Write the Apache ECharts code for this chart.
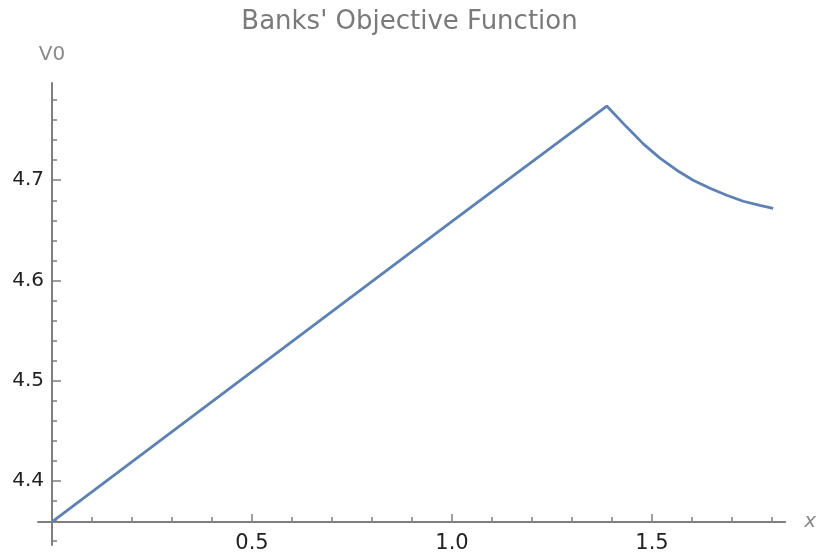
<!DOCTYPE html>
<html>
<head>
<meta charset="utf-8">
<script src="https://cdn.jsdelivr.net/npm/echarts@6/dist/echarts.min.js"></script>
<style>html,body{margin:0;padding:0;background:#fff}#c{width:819px;height:557px}</style>
</head>
<body>
<div id="c"></div>
<script>
// Data
const xValues = [0, 0.5, 1.0, 1.387, 1.437, 1.479, 1.520, 1.562, 1.603, 1.645, 1.687, 1.728, 1.770, 1.803];
const v0Values = [4.359, 4.509, 4.659, 4.774, 4.753, 4.736, 4.722, 4.710, 4.700, 4.692, 4.685, 4.679, 4.675, 4.672];
const xMajorTicks = [0.5, 1.0, 1.5];
const xMinorTicks = [0.1, 0.2, 0.3, 0.4, 0.6, 0.7, 0.8, 0.9, 1.1, 1.2, 1.3, 1.4, 1.6, 1.7, 1.8];
const yMajorTicks = [4.4, 4.5, 4.6, 4.7];
const yMinorTicks = [4.34, 4.36, 4.38, 4.42, 4.44, 4.46, 4.48, 4.52, 4.54, 4.56, 4.58, 4.62, 4.64, 4.66, 4.68, 4.72, 4.74, 4.76, 4.78];

const axisColor = '#7f7f7f';
const labelFont = 'DejaVu Sans';
const xRange = {min: -0.035, max: 1.833};
const yRange = {min: 4.336, max: 4.797};

const chart = echarts.init(document.getElementById('c'), null, {renderer: 'canvas'});
chart.setOption({
  backgroundColor: '#ffffff',
  animation: false,
  title: {
    text: "Banks' Objective Function",
    left: 'center', top: 4,
    textStyle: {fontFamily: labelFont, fontSize: 26, fontWeight: 'normal', color: '#7a7a7a'}
  },
  grid: {left: 38, right: 32, top: 83, bottom: 12, containLabel: false},
  xAxis: [{
    type: 'value', min: xRange.min, max: xRange.max, position: 'bottom', offset: -23,
    name: 'x', nameLocation: 'end', nameGap: 19,
    nameTextStyle: {fontFamily: labelFont, fontSize: 20, fontStyle: 'italic', color: '#8a8a8a', verticalAlign: 'middle'},
    axisLine: {show: true, lineStyle: {color: axisColor, width: 2}},
    axisTick: {show: true, inside: true, length: 8, customValues: xMajorTicks, lineStyle: {color: axisColor, width: 1.5}},
    axisLabel: {show: true, customValues: xMajorTicks, margin: 11, fontFamily: labelFont, fontSize: 21, color: '#222',
      formatter: v => v.toFixed(1)},
    splitLine: {show: false}
  }, {
    type: 'value', min: xRange.min, max: xRange.max, position: 'bottom', offset: -23,
    axisLine: {show: false},
    axisTick: {show: true, inside: true, length: 5, customValues: xMinorTicks, lineStyle: {color: axisColor, width: 1.5}},
    axisLabel: {show: false},
    splitLine: {show: false}
  }],
  yAxis: [{
    type: 'value', min: yRange.min, max: yRange.max, position: 'left', offset: -14,
    name: 'V0', nameLocation: 'end', nameGap: 18,
    nameTextStyle: {fontFamily: labelFont, fontSize: 20, color: '#8a8a8a', align: 'center'},
    axisLine: {show: true, lineStyle: {color: axisColor, width: 2}},
    axisTick: {show: true, inside: true, length: 9, customValues: yMajorTicks, lineStyle: {color: axisColor, width: 1.5}},
    axisLabel: {show: true, customValues: yMajorTicks, margin: 8, fontFamily: labelFont, fontSize: 20, color: '#222',
      formatter: v => v.toFixed(1)},
    splitLine: {show: false}
  }, {
    type: 'value', min: yRange.min, max: yRange.max, position: 'left', offset: -14,
    axisLine: {show: false},
    axisTick: {show: true, inside: true, length: 5, customValues: yMinorTicks, lineStyle: {color: axisColor, width: 1.5}},
    axisLabel: {show: false},
    splitLine: {show: false}
  }],
  series: [{
    type: 'line',
    xAxisIndex: 0, yAxisIndex: 0,
    data: xValues.map((x, i) => [x, v0Values[i]]),
    smooth: false,
    showSymbol: false,
    lineStyle: {color: '#5e81b5', width: 2.8},
    clip: false
  }]
});
</script>
</body>
</html>
